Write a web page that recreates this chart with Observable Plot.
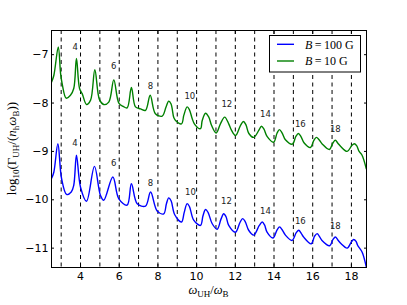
<!DOCTYPE html>
<html>
<head>
<meta charset="utf-8">
<script src="https://cdn.jsdelivr.net/npm/d3@7"></script>
<script src="https://cdn.jsdelivr.net/npm/@observablehq/plot@0.6"></script>
<style>
  html, body { margin: 0; padding: 0; background: #fff; }
</style>
</head>
<body>
<div id="chart"></div>
<script>
// ---- data ----
const xTicks = [4, 6, 8, 10, 12, 14, 16, 18];
const yTicks = [-7, -8, -9, -10, -11];
const harmonics = [3, 4, 5, 6, 7, 8, 9, 10, 11, 12, 13, 14, 15, 16, 17, 18];

const greenX = [2.50, 2.62, 2.85, 2.97, 3.05, 3.26, 3.48, 3.65, 3.79, 3.95, 4.09, 4.31, 4.52, 4.74, 4.98, 5.20, 5.46, 5.72, 5.98, 6.21, 6.41, 6.63, 6.84, 7.10, 7.36, 7.60, 7.87, 8.22, 8.42, 8.56, 8.68, 8.82, 8.91, 9.22, 9.34, 9.51, 9.63, 9.77, 9.90, 10.20, 10.29, 10.46, 10.63, 10.77, 11.01, 11.23, 11.45, 11.66, 11.80, 12.01, 12.27, 12.42, 12.55, 12.70, 12.95, 13.22, 13.35, 13.48, 13.64, 13.98, 14.16, 14.28, 14.42, 14.59, 14.95, 15.13, 15.26, 15.40, 15.55, 15.88, 16.06, 16.19, 16.33, 16.50, 16.86, 17.05, 17.17, 17.30, 17.45, 17.78, 18.02, 18.15, 18.27, 18.40, 18.55, 18.77];
const greenY = [-7.57, -7.43, -6.84, -7.39, -7.60, -7.90, -7.84, -7.70, -7.08, -7.70, -7.81, -8.03, -7.94, -7.31, -7.93, -8.03, -7.98, -7.52, -8.00, -8.07, -8.10, -7.68, -8.08, -8.12, -8.15, -7.84, -8.22, -8.27, -8.08, -7.96, -8.02, -8.30, -8.36, -8.43, -8.25, -8.08, -8.14, -8.32, -8.44, -8.53, -8.36, -8.21, -8.29, -8.46, -8.62, -8.43, -8.29, -8.43, -8.56, -8.67, -8.46, -8.38, -8.45, -8.63, -8.71, -8.56, -8.48, -8.54, -8.69, -8.81, -8.62, -8.55, -8.62, -8.76, -8.85, -8.69, -8.63, -8.70, -8.82, -8.92, -8.77, -8.71, -8.76, -8.85, -8.96, -8.82, -8.77, -8.83, -8.90, -9.00, -8.88, -8.84, -8.88, -9.00, -9.08, -9.36];

const blueX = [2.50, 2.62, 2.83, 3.02, 3.28, 3.52, 3.65, 3.79, 4.00, 4.31, 4.72, 5.03, 5.20, 5.67, 5.98, 6.41, 6.63, 6.93, 7.36, 7.62, 7.96, 8.30, 8.44, 8.56, 8.68, 8.87, 9.22, 9.36, 9.51, 9.63, 9.85, 10.20, 10.33, 10.46, 10.59, 10.80, 11.06, 11.26, 11.40, 11.52, 11.66, 12.01, 12.24, 12.38, 12.51, 12.69, 12.95, 13.24, 13.39, 13.51, 13.64, 13.95, 14.16, 14.29, 14.42, 14.59, 14.93, 15.15, 15.28, 15.40, 15.53, 15.92, 16.10, 16.23, 16.35, 16.48, 16.88, 17.05, 17.17, 17.30, 17.47, 17.78, 18.00, 18.12, 18.24, 18.32, 18.55, 18.77];
const blueY = [-9.56, -9.43, -8.84, -9.56, -9.89, -9.84, -9.70, -9.08, -9.74, -10.03, -9.31, -9.91, -10.01, -9.53, -9.98, -10.11, -9.67, -10.08, -10.13, -9.84, -10.23, -10.29, -10.08, -9.96, -10.02, -10.31, -10.46, -10.26, -10.08, -10.14, -10.42, -10.53, -10.33, -10.20, -10.26, -10.49, -10.61, -10.40, -10.29, -10.35, -10.53, -10.67, -10.47, -10.39, -10.45, -10.63, -10.73, -10.53, -10.46, -10.52, -10.67, -10.79, -10.62, -10.56, -10.62, -10.73, -10.84, -10.68, -10.63, -10.69, -10.77, -10.91, -10.75, -10.70, -10.76, -10.84, -10.95, -10.82, -10.77, -10.83, -10.91, -11.00, -10.87, -10.82, -10.86, -10.94, -11.08, -11.39];

const harmonicLabels = ["4", "6", "8", "10", "12", "14", "16", "18"];
const greenLabelX = [3.73, 5.72, 7.62, 9.65, 11.56, 13.56, 15.36, 17.17];
const greenLabelY = [-6.84, -7.24, -7.65, -7.85, -8.03, -8.24, -8.44, -8.54];
const blueLabelX = [3.71, 5.72, 7.62, 9.68, 11.54, 13.56, 15.36, 17.17];
const blueLabelY = [-8.83, -9.24, -9.65, -9.84, -10.04, -10.24, -10.44, -10.55];

const seriesNames = ["100 G", "10 G"];
const seriesColors = ["#0000ff", "#008000"];

// ---- tables for the library ----
const green = greenX.map((x, i) => ({x, y: greenY[i]}));
const blue = blueX.map((x, i) => ({x, y: blueY[i]}));
const labelsG = harmonicLabels.map((t, i) => ({x: greenLabelX[i], y: greenLabelY[i], t}));
const labelsB = harmonicLabels.map((t, i) => ({x: blueLabelX[i], y: blueLabelY[i], t}));

const fmt = d => d < 0 ? "\u2212" + (-d) : String(d);
const tickFont = "DejaVu Sans, sans-serif";

const W = 407, H = 305, ML = 51, MR = 41, MT = 30, MB = 38;

const svg = Plot.plot({
  width: W, height: H,
  marginLeft: ML, marginRight: MR, marginTop: MT, marginBottom: MB,
  style: {background: "#fff", fontFamily: tickFont, fontSize: "11px", color: "#000", overflow: "visible"},
  x: {domain: [2.5, 18.78], axis: null},
  y: {domain: [-11.4, -6.5], axis: null},
  marks: [
    Plot.ruleX(harmonics, {stroke: "#000", strokeWidth: 1, strokeDasharray: "4,3.5"}),
    Plot.line(green, {x: "x", y: "y", stroke: seriesColors[1], strokeWidth: 1.4, curve: "catmull-rom", clip: true}),
    Plot.line(blue, {x: "x", y: "y", stroke: seriesColors[0], strokeWidth: 1.4, curve: "catmull-rom", clip: true}),
    Plot.text(labelsG, {x: "x", y: "y", text: "t", fontSize: 8.5, fill: "#222"}),
    Plot.text(labelsB, {x: "x", y: "y", text: "t", fontSize: 8.5, fill: "#222"}),
    Plot.frame({stroke: "#000", strokeWidth: 1}),
    Plot.axisX({anchor: "bottom", ticks: xTicks, tickSize: 0, tickPadding: 5, tickFormat: fmt, fontSize: 11, label: null}),
    Plot.axisY({anchor: "left", ticks: yTicks, tickSize: 0, tickPadding: 3, tickFormat: fmt, fontSize: 11, label: null}),
    Plot.axisX({anchor: "bottom", ticks: xTicks, tickSize: -3, tickFormat: () => "", label: null}),
    Plot.axisX({anchor: "top", ticks: xTicks, tickSize: -3, tickFormat: () => "", label: null}),
    Plot.axisY({anchor: "left", ticks: yTicks, tickSize: -3, tickFormat: () => "", label: null}),
    Plot.axisY({anchor: "right", ticks: yTicks, tickSize: -3, tickFormat: () => "", label: null})
  ]
});

const s = d3.select(svg);
const serif = "Liberation Serif, DejaVu Serif, serif";

function addParts(t, parts) {
  let shift = 0;
  parts.forEach(([txt, kind]) => {
    const ts = t.append("tspan").text(txt);
    let target = 0;
    if (kind === "sub") { ts.attr("font-size", 9); target = 3; }
    if (kind === "i") ts.attr("font-style", "italic");
    if (target !== shift) { ts.attr("dy", target - shift); shift = target; }
  });
}

// y label
const yl = s.append("text")
  .attr("transform", `translate(16,${(MT + H - MB) / 2}) rotate(-90)`)
  .attr("text-anchor", "middle")
  .attr("font-family", serif).attr("font-size", 13).attr("fill", "#000");
addParts(yl, [["log", ""], ["10", "sub"], ["(\u0393", ""], ["UH", "sub"], ["/(", ""], ["n", "i"], ["h", "sub"], ["\u03c9", "i"], ["B", "sub"], ["))", ""]]);

// x label
const xl = s.append("text")
  .attr("x", (ML + W - MR) / 2).attr("y", 293.5)
  .attr("text-anchor", "middle")
  .attr("font-family", serif).attr("font-size", 12.5).attr("fill", "#000");
addParts(xl, [["\u03c9", "i"], ["UH", "sub"], ["/", ""], ["\u03c9", "i"], ["B", "sub"]]);

// legend
const lg = s.append("g").attr("text-anchor", "start");
lg.append("rect").attr("x", 269.5).attr("y", 35.5).attr("width", 91).attr("height", 36.5)
  .attr("fill", "#ffffff").attr("stroke", "#000").attr("stroke-width", 1);
seriesNames.forEach((name, i) => {
  const yy = 44.3 + i * 16.7;
  lg.append("line").attr("x1", 277).attr("x2", 294).attr("y1", yy).attr("y2", yy)
    .attr("stroke", seriesColors[i]).attr("stroke-width", 1.4);
  const t = lg.append("text").attr("x", 305).attr("y", yy + 4.3)
    .attr("text-anchor", "start")
    .attr("font-family", serif).attr("font-size", 12).attr("fill", "#000");
  t.append("tspan").attr("font-style", "italic").text("B");
  t.append("tspan").text("\u2009=\u2009" + name);
});

document.getElementById("chart").appendChild(svg);
</script>
</body>
</html>
